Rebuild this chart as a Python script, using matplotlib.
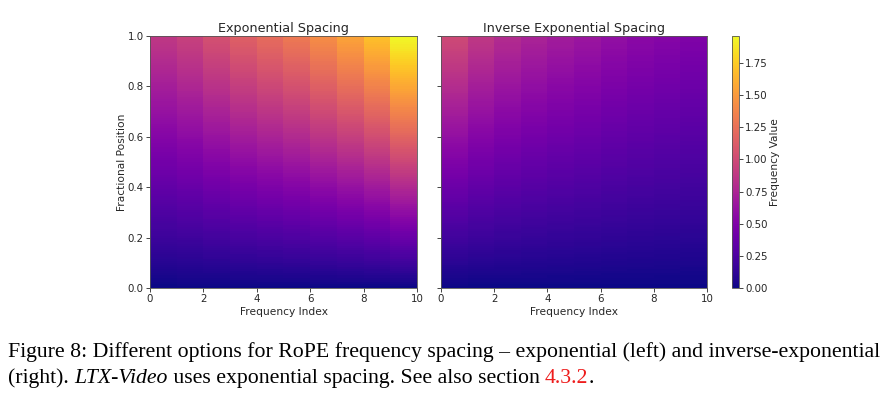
import numpy as np
import matplotlib
matplotlib.use("Agg")
import matplotlib.pyplot as plt

# top-row values per frequency column
exp_freqs = [0.88, 0.95, 1.05, 1.15, 1.23, 1.31, 1.43, 1.55, 1.70, 1.96]
inv_freqs = [1.00, 0.88, 0.80, 0.74, 0.69, 0.65, 0.60, 0.56, 0.53, 0.50]
positions = np.linspace(0, 1, 120)

x_ticks = [0, 2, 4, 6, 8, 10]
y_ticks = [0.0, 0.2, 0.4, 0.6, 0.8, 1.0]
cbar_ticks = [0.0, 0.25, 0.5, 0.75, 1.0, 1.25, 1.5, 1.75]

vmax = max(max(exp_freqs), max(inv_freqs))
W, H = 892, 394
fig = plt.figure(figsize=(W / 100, H / 100), dpi=100)

txt_col = "#262626"
plt.rcParams["font.family"] = "DejaVu Sans"
tick_fs = 7.4
lab_fs = 7.7


def add_ax(x0, x1, y0, y1):
    return fig.add_axes([x0 / W, 1 - y1 / H, (x1 - x0) / W, (y1 - y0) / H])


ax1 = add_ax(150, 417, 36, 288)
ax2 = add_ax(441, 707, 36, 288)
cax = add_ax(732, 739, 36, 288)

for ax, freqs, title in [(ax1, exp_freqs, "Exponential Spacing"),
                         (ax2, inv_freqs, "Inverse Exponential Spacing")]:
    grid = np.outer(positions, freqs)
    im = ax.imshow(grid, cmap="plasma", origin="lower", aspect="auto",
                   extent=[0, 10, 0, 1], vmin=0, vmax=vmax, interpolation="nearest")
    ax.set_title(title, fontsize=9.2, color=txt_col, pad=3)
    ax.set_xlabel("Frequency Index", fontsize=lab_fs, color=txt_col, labelpad=2)
    ax.set_xticks(x_ticks)
    ax.set_yticks(y_ticks)
    ax.tick_params(labelsize=tick_fs, colors=txt_col, length=2.8, width=0.6, pad=1.8)
    for s in ax.spines.values():
        s.set_color("#555555")
        s.set_linewidth(0.6)

ax1.set_ylabel("Fractional Position", fontsize=lab_fs, color=txt_col, labelpad=0.5)
ax2.set_yticklabels([])

cb = fig.colorbar(im, cax=cax)
cb.set_ticks(cbar_ticks)
cb.ax.tick_params(labelsize=tick_fs, colors=txt_col, length=2.8, width=0.6, pad=1.8)
cb.set_label("Frequency Value", fontsize=lab_fs, color=txt_col, labelpad=1)
cb.outline.set_edgecolor("#555555")
cb.outline.set_linewidth(0.6)

# caption, built piece by piece
renderer = fig.canvas.get_renderer()
cap_size = 15.7
serif = "Liberation Serif"


def put_pieces(pieces, x_px, y_px):
    x = x_px / W
    for text, style, color in pieces:
        t = fig.text(x, 1 - y_px / H, text, fontsize=cap_size, family=serif,
                     style=style, color=color, va="baseline", ha="left")
        bb = t.get_window_extent(renderer)
        x = bb.x1 / W


put_pieces([("Figure 8: Different options for RoPE frequency spacing \u2013 exponential (left) and inverse-exponential",
             "normal", "black")], 8, 357)
put_pieces([("(right). ", "normal", "black"),
            ("LTX-Video", "italic", "black"),
            (" uses exponential spacing. See also section ", "normal", "black"),
            ("4.3.2", "normal", "#ee1c1c"),
            (".", "normal", "black")], 8, 383)

fig.savefig("out.png", dpi=100)
